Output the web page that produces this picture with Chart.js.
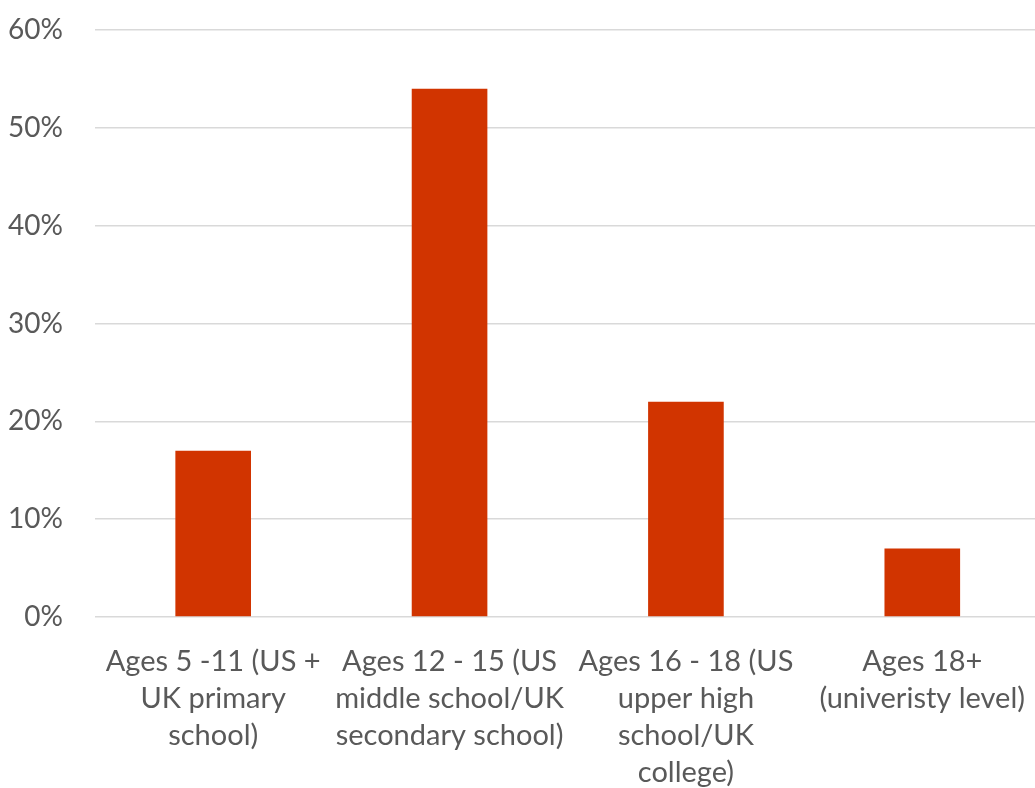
<!DOCTYPE html>
<html>
<head>
<meta charset="utf-8">
<script src="https://cdn.jsdelivr.net/npm/chart.js@4/dist/chart.umd.min.js"></script>
<style>
  html, body { margin: 0; padding: 0; background: #ffffff; overflow: hidden; }
  #wrap { width: 1035px; height: 788px; overflow: hidden; position: relative; }
  #box { width: 1043px; height: 788px; position: absolute; left: 0; top: 0; }
</style>
</head>
<body>
<div id="wrap"><div id="box"><canvas id="chart"></canvas></div></div>
<script>
// Age groups, one entry per bar (each label split into its wrapped lines)
const categories = [
  ['Ages 5 -11 (US +', 'UK primary', 'school)'],
  ['Ages 12 - 15 (US', 'middle school/UK', 'secondary school)'],
  ['Ages 16 - 18 (US', 'upper high', 'school/UK', 'college)'],
  ['Ages 18+', '(univeristy level)']
];
// Share of respondents in each age group, in percent
const shares = [17, 54, 22, 7];
// Value axis ticks
const yTicks = [0, 10, 20, 30, 40, 50, 60];

const textColor = '#595959';
const fontFamily = 'Lato, "Open Sans", sans-serif';

new Chart(document.getElementById('chart'), {
  type: 'bar',
  data: {
    labels: categories,
    datasets: [{
      data: shares,
      backgroundColor: '#d13400',
      borderWidth: 0,
      categoryPercentage: 1,
      barPercentage: 0.32
    }]
  },
  options: {
    responsive: true,
    maintainAspectRatio: false,
    animation: false,
    layout: { padding: { top: 30, right: 0, bottom: 0, left: 0 } },
    plugins: { legend: { display: false }, tooltip: { enabled: false } },
    scales: {
      x: {
        afterFit: (scale) => { scale.height = 171; },
        grid: { display: false },
        border: { display: false },
        ticks: {
          color: textColor,
          font: { family: fontFamily, size: 29, lineHeight: 1.28 },
          padding: 18,
          maxRotation: 0,
          autoSkip: false
        }
      },
      y: {
        min: yTicks[0],
        max: yTicks[yTicks.length - 1],
        afterBuildTicks: (scale) => { scale.ticks = yTicks.map(v => ({ value: v })); },
        afterFit: (scale) => {
          scale.width = 95;
          scale.paddingTop = 0;
          scale.paddingBottom = 0;
        },
        grid: { color: '#d9d9d9', lineWidth: 1.5, drawTicks: false },
        border: { display: false },
        ticks: {
          color: textColor,
          font: { family: fontFamily, size: 28 },
          padding: 32,
          callback: (v) => v + '%'
        }
      }
    }
  }
});
</script>
</body>
</html>
